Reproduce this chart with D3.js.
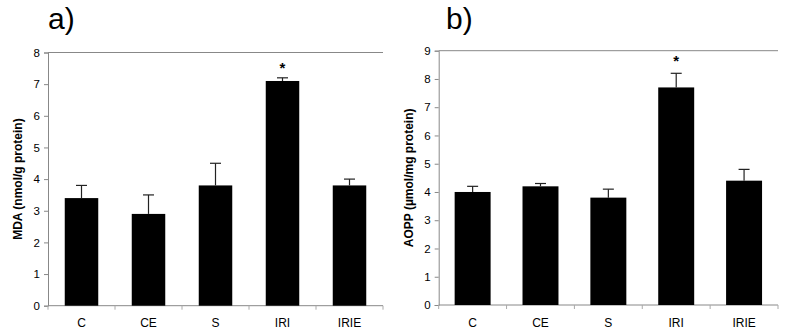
<!DOCTYPE html>
<html>
<head>
<meta charset="utf-8">
<script src="https://cdn.jsdelivr.net/npm/d3@7"></script>
<style>
  body { margin: 0; background: #fff; }
  svg { display: block; font-family: "Liberation Sans", Arial, sans-serif; }
</style>
</head>
<body>
<div id="container"></div>
<script>
/* DATA */
const groups = ["C", "CE", "S", "IRI", "IRIE"];
const mdaValues = [3.4, 2.9, 3.8, 7.1, 3.8];
const mdaErrors = [0.4, 0.6, 0.7, 0.1, 0.2];
const aoppValues = [4.0, 4.2, 3.8, 7.7, 4.4];
const aoppErrors = [0.2, 0.1, 0.3, 0.5, 0.4];
const mdaTicks = [0, 1, 2, 3, 4, 5, 6, 7, 8];
const aoppTicks = [0, 1, 2, 3, 4, 5, 6, 7, 8, 9];
const starGroup = "IRI";

/* CONSTANTS */
const width = 785, height = 332;

const svg = d3.select("#container")
  .append("svg")
  .attr("width", width)
  .attr("height", height);

function drawPanel(opts) {
  const g = svg.append("g");

  const xScale = d3.scaleBand()
    .domain(groups)
    .range([opts.left, opts.right])
    .paddingInner(opts.pad)
    .paddingOuter(opts.pad / 2);

  const yScale = d3.scaleLinear()
    .domain([0, opts.max])
    .range([opts.bottom, opts.top]);

  // top border line
  g.append("line")
    .attr("x1", opts.left).attr("x2", opts.right)
    .attr("y1", yScale(opts.max)).attr("y2", yScale(opts.max))
    .attr("stroke", "#888").attr("stroke-width", 1);

  // y axis
  const yAxis = d3.axisLeft(yScale).tickValues(opts.ticks).tickSize(4).tickPadding(4);
  g.append("g")
    .attr("transform", `translate(${opts.left},0)`)
    .call(yAxis)
    .call(s => s.selectAll("path, line").attr("stroke", "#888"))
    .call(s => s.selectAll("text").attr("fill", "#000").style("font-size", "11.5px").style("font-family", "Liberation Sans, Arial, sans-serif"));

  // x axis with ticks between categories
  const bandStep = (opts.right - opts.left) / groups.length;
  const xAxisG = g.append("g").attr("transform", `translate(0,${opts.bottom})`);
  xAxisG.append("line")
    .attr("x1", opts.left).attr("x2", opts.right)
    .attr("y1", 0).attr("y2", 0)
    .attr("stroke", "#888");
  xAxisG.selectAll("line.tick")
    .data(d3.range(groups.length + 1))
    .join("line")
    .attr("class", "tick")
    .attr("x1", i => opts.left + i * bandStep).attr("x2", i => opts.left + i * bandStep)
    .attr("y1", 0).attr("y2", 4)
    .attr("stroke", "#aaa");
  xAxisG.selectAll("text")
    .data(groups)
    .join("text")
    .attr("x", d => xScale(d) + xScale.bandwidth() / 2)
    .attr("y", 21.5)
    .attr("text-anchor", "middle")
    .style("font-size", "12px")
    .text(d => d);

  // bars
  g.selectAll("rect.bar")
    .data(groups.map((d, i) => ({ name: d, v: opts.values[i], e: opts.errors[i] })))
    .join("rect")
    .attr("class", "bar")
    .attr("x", d => xScale(d.name))
    .attr("width", xScale.bandwidth())
    .attr("y", d => yScale(d.v))
    .attr("height", d => yScale(0) - yScale(d.v))
    .attr("fill", "#000");

  // error bars (upper only)
  const errG = g.selectAll("g.err")
    .data(groups.map((d, i) => ({ name: d, v: opts.values[i], e: opts.errors[i] })))
    .join("g")
    .attr("class", "err");
  errG.append("line")
    .attr("x1", d => xScale(d.name) + xScale.bandwidth() / 2)
    .attr("x2", d => xScale(d.name) + xScale.bandwidth() / 2)
    .attr("y1", d => yScale(d.v))
    .attr("y2", d => yScale(d.v + d.e))
    .attr("stroke", "#222").attr("stroke-width", 1.2);
  errG.append("line")
    .attr("x1", d => xScale(d.name) + xScale.bandwidth() / 2 - 5.5)
    .attr("x2", d => xScale(d.name) + xScale.bandwidth() / 2 + 5.5)
    .attr("y1", d => yScale(d.v + d.e))
    .attr("y2", d => yScale(d.v + d.e))
    .attr("stroke", "#222").attr("stroke-width", 1.2);

  // significance star
  g.append("text")
    .attr("x", xScale(starGroup) + xScale.bandwidth() / 2)
    .attr("y", yScale(opts.starAt))
    .attr("text-anchor", "middle")
    .style("font-size", "15px")
    .style("font-weight", "bold")
    .text("*");

  // y label
  g.append("text")
    .attr("transform", `translate(${opts.labelX},${(opts.top + opts.bottom) / 2}) rotate(-90)`)
    .attr("text-anchor", "middle")
    .style("font-size", "12px")
    .style("font-weight", "bold")
    .text(opts.label);

  // panel letter
  g.append("text")
    .attr("x", opts.letterX)
    .attr("y", 29)
    .style("font-size", "30px")
    .text(opts.letter);
}

drawPanel({
  left: 48, right: 383, top: 52.5, bottom: 305.7,
  max: 8, ticks: mdaTicks, pad: 0.5,
  values: mdaValues, errors: mdaErrors, starAt: 7.35,
  label: "MDA (nmol/g protein)", labelX: 22,
  letter: "a)", letterX: 48
});

drawPanel({
  left: 438.7, right: 778, top: 50.7, bottom: 305,
  max: 9, ticks: aoppTicks, pad: 0.47,
  values: aoppValues, errors: aoppErrors, starAt: 8.45,
  label: "AOPP (\u00B5mol/mg protein)", labelX: 413,
  letter: "b)", letterX: 446
});
</script>
</body>
</html>
